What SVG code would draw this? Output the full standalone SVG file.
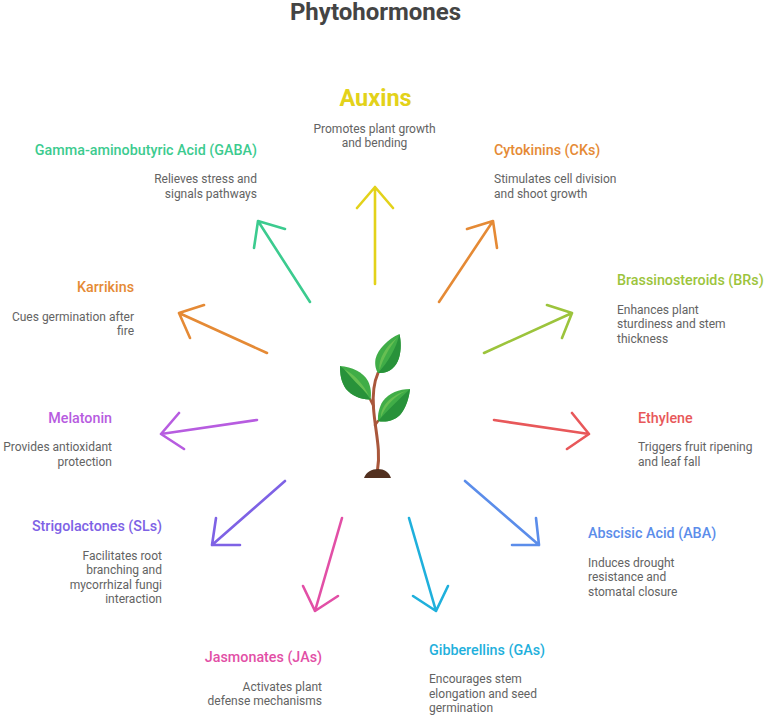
<svg xmlns="http://www.w3.org/2000/svg" width="767" height="716" viewBox="0 0 767 716">
<style>
text{font-family:Roboto,"Liberation Sans",sans-serif}
.h{font-size:14.3px;font-weight:500}
.b{font-size:12px;fill:#636363}
.e{text-anchor:end}
.m{text-anchor:middle}
.a{fill:none;stroke-width:2.6;stroke-linecap:round;stroke-linejoin:round}
.stem{fill:none;stroke:#a9573b;stroke-linecap:round}
.dark{fill:#28923a}
.mid{fill:#40ad47}
.lite{fill:#66bf52}
</style>
<rect width="767" height="716" fill="#fff"/>
<text x="375.500" y="20" class="m" font-size="24" font-weight="700" fill="#444">Phytohormones</text>

<g id="connectors">
<path class="a" stroke="#e3d21a" d="M375 284V187M357 208L375 187L393 208"/>
<path class="a" stroke="#3ccb8f" d="M310 302L258 221M254 248L258 221L285 229"/>
<path class="a" stroke="#e58a35" d="M439 302L493 221M467 229L493 221L497 248"/>
<path class="a" stroke="#9cc43c" d="M484 353L572 313M547 305L572 313L562 338"/>
<path class="a" stroke="#e58a35" d="M267 353L179 313M204 305L179 313L190 338"/>
<path class="a" stroke="#e8585a" d="M494 420L589 434M572 413L589 434L567 449"/>
<path class="a" stroke="#b75ce0" d="M257 420L161 434M179 413L161 434L184 449"/>
<path class="a" stroke="#7e62e5" d="M285 481L212 545M216 518L212 545L240 545"/>
<path class="a" stroke="#5b8dea" d="M465 481L539 545M536 518L539 545L512 545"/>
<path class="a" stroke="#e24fa6" d="M342 518L315 611M303 586L315 611L338 596"/>
<path class="a" stroke="#1fb0dc" d="M409 518L436 611M413 596L436 611L448 586"/>
</g>

<g id="plant">
<path class="stem" stroke-width="3" d="M377.500 470C381 450 375 430 373.500 408C372.500 394 374 382 378 373"/>
<path class="stem" stroke-width="2.600" d="M370 399L373.500 406M378 421L375 425"/>
<path d="M364 478C366 472 372 469 378 469C384 469 389 472 391 478Z" fill="#52301f"/>
<!-- upper leaf -->
<path class="mid" d="M399.500 334C388 339 378 349 375.500 359C374.500 365 376 370 378 373C388 374 396 368 399 358C401.500 350 401 341 399.500 334Z"/>
<path class="dark" d="M399.500 334C401 341 401.500 350 399 358C396 368 388 374 378 373C388 362 396 349 399.500 334Z"/>
<path class="lite" d="M397 338C389 348 383 359 379.500 370C378 359 386 346 397 338Z"/>
<!-- left leaf -->
<path class="mid" d="M340 366C352 367 363 372 368 381C371 387 371.500 394 370.500 399.500C362 400 352 396 346 389C341 382 340 374 340 366Z"/>
<path class="dark" d="M340 366C340 374 341 382 346 389C352 396 362 400 370.500 399.500C362 387 352 375 340 366Z"/>
<path class="lite" d="M344 369C354 374 364 385 369 396C360 386 351 378 344 369Z"/>
<!-- right leaf -->
<path class="mid" d="M410 389C399 389 389 393 383 401C379 407 377.500 415 378 421C385 422.500 394 421 400 415C406 408 409 398 410 389Z"/>
<path class="dark" d="M410 389C409 398 406 408 400 415C394 421 385 422.500 378 421C388 410 399 399 410 389Z"/>
<path class="lite" d="M406 391C395 396 386 405 381 417C381 405 392 395 406 391Z"/>
</g>

<g id="auxins">
<text x="375.500" y="106" class="m" font-size="23.500" font-weight="700" fill="#e3d21a">Auxins</text>
<text x="374.500" y="132.500" class="b m">Promotes plant growth</text>
<text x="374.500" y="147" class="b m">and bending</text>
</g>
<g id="gaba">
<text x="257" y="154.500" class="h e" fill="#3ccb8f">Gamma-aminobutyric Acid (GABA)</text>
<text x="257" y="183" class="b e">Relieves stress and</text>
<text x="257" y="197.500" class="b e">signals pathways</text>
</g>
<g id="cytokinins">
<text x="494" y="154.500" class="h" fill="#e58a35">Cytokinins (CKs)</text>
<text x="494" y="183" class="b">Stimulates cell division</text>
<text x="494" y="197.500" class="b">and shoot growth</text>
</g>
<g id="brassinosteroids">
<text x="617" y="285" class="h" fill="#9cc43c">Brassinosteroids (BRs)</text>
<text x="617" y="313.500" class="b">Enhances plant</text>
<text x="617" y="328" class="b">sturdiness and stem</text>
<text x="617" y="342.500" class="b">thickness</text>
</g>
<g id="karrikins">
<text x="134" y="292" class="h e" fill="#e58a35">Karrikins</text>
<text x="134" y="320.500" class="b e">Cues germination after</text>
<text x="134" y="335" class="b e">fire</text>
</g>
<g id="ethylene">
<text x="638" y="422.500" class="h" fill="#e8585a">Ethylene</text>
<text x="638" y="451" class="b">Triggers fruit ripening</text>
<text x="638" y="465.500" class="b">and leaf fall</text>
</g>
<g id="melatonin">
<text x="112" y="422.500" class="h e" fill="#b75ce0">Melatonin</text>
<text x="112" y="451" class="b e">Provides antioxidant</text>
<text x="112" y="465.500" class="b e">protection</text>
</g>
<g id="strigolactones">
<text x="162" y="531" class="h e" fill="#7e62e5">Strigolactones (SLs)</text>
<text x="162" y="559.500" class="b e">Facilitates root</text>
<text x="162" y="574" class="b e">branching and</text>
<text x="162" y="588.500" class="b e">mycorrhizal fungi</text>
<text x="162" y="603" class="b e">interaction</text>
</g>
<g id="abscisic">
<text x="588" y="538" class="h" fill="#5b8dea">Abscisic Acid (ABA)</text>
<text x="588" y="566.500" class="b">Induces drought</text>
<text x="588" y="581" class="b">resistance and</text>
<text x="588" y="595.500" class="b">stomatal closure</text>
</g>
<g id="jasmonates">
<text x="322" y="662" class="h e" fill="#e24fa6">Jasmonates (JAs)</text>
<text x="322" y="690.500" class="b e">Activates plant</text>
<text x="322" y="705" class="b e">defense mechanisms</text>
</g>
<g id="gibberellins">
<text x="429" y="654.500" class="h" fill="#1fb0dc">Gibberellins (GAs)</text>
<text x="429" y="683" class="b">Encourages stem</text>
<text x="429" y="697.500" class="b">elongation and seed</text>
<text x="429" y="712" class="b">germination</text>
</g>
</svg>
